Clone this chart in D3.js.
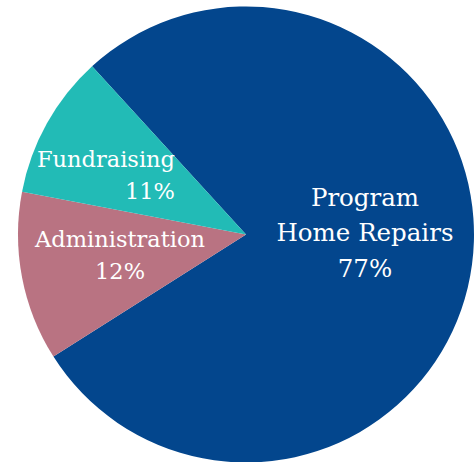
<!DOCTYPE html>
<html>
<head>
<meta charset="utf-8">
<script src="https://cdn.jsdelivr.net/npm/d3@7"></script>
<style>
  body { margin: 0; background: #fff; }
  svg text { font-family: "DejaVu Serif", serif; fill: #fff; }
</style>
</head>
<body>
<div id="chart"></div>
<script>
// slices in clockwise order, starting at upper left
const categories = ["Program", "Administration", "Fundraising"];
const shares = [77.8, 12.0, 10.2];           // angular share
const percentLabels = ["77%", "12%", "11%"];
const labelLines = [["Program", "Home Repairs"], ["Administration"], ["Fundraising"]];
const colors = ["#03468d", "#b97382", "#22bbb6"];

const width = 476, height = 462;
const cx = 246, cy = 234.5, radius = 228;

const svg = d3.select("#chart")
    .append("svg")
    .attr("width", width)
    .attr("height", height)
    .append("g")
    .attr("transform", `translate(${cx},${cy})`);

const pie = d3.pie()
    .sort(null)
    .value(d => d)
    .startAngle(-0.741)
    .endAngle(-0.741 + 2 * Math.PI);

const arcs = pie(shares);

const arc = d3.arc().innerRadius(0).outerRadius(radius);

svg.selectAll("path")
    .data(arcs)
    .enter()
    .append("path")
    .attr("d", arc)
    .attr("fill", (d, i) => colors[i]);

// label placement: offset from centre, line spacing, anchor, size per slice
const labelPos = [
    {x: 119, y: -29, step: 35.5, anchor: "middle", size: 24.5},
    {x: -126, y: 12, step: 32, anchor: "middle", size: 22.5},
    {x: -71, y: -68, step: 32, anchor: "end", size: 22.5}
];

arcs.forEach((d, i) => {
    const p = labelPos[i];
    const lines = labelLines[i].concat([percentLabels[i]]);
    const t = svg.append("text")
        .attr("text-anchor", p.anchor)
        .style("font-size", p.size + "px");
    lines.forEach((line, j) => {
        t.append("tspan")
            .attr("x", p.x)
            .attr("y", p.y + j * p.step)
            .text(line);
    });
});
</script>
</body>
</html>
